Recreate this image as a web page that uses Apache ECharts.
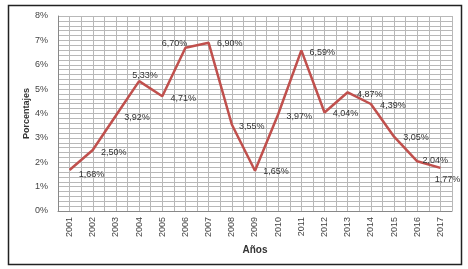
<!DOCTYPE html>
<html>
<head>
    <meta charset="utf-8">
    <title>Porcentajes por año</title>
    <script src="https://cdn.jsdelivr.net/npm/echarts@6/dist/echarts.min.js"></script>
    <style>
        body { margin: 0; background: #fff; }
    </style>
</head>
<body>
    <div id="main" style="width: 468px;height:269px;"></div>
    <script type="text/javascript">
        // datos del gráfico
        var years = ['2001', '2002', '2003', '2004', '2005', '2006', '2007', '2008', '2009',
            '2010', '2011', '2012', '2013', '2014', '2015', '2016', '2017'];
        var values = [1.68, 2.50, 3.92, 5.33, 4.71, 6.70, 6.90, 3.55, 1.65,
            3.97, 6.59, 4.04, 4.87, 4.39, 3.05, 2.04, 1.77];
        var yTicks = ['0%', '1%', '2%', '3%', '4%', '5%', '6%', '7%', '8%'];

        // desplazamiento de cada etiqueta respecto al punto
        var labelOffsets = [[22, 4], [21, 2], [21, 2], [6, -6], [21, 2], [-11, -4], [21, 1], [20, 2], [21, 1],
            [21, 2], [21, 2], [21, 1], [22, 2], [22, 2], [22, 1], [18, -1], [7, 12]];

        var font = 'Liberation Sans';
        var gridColor = '#b8b8b8';

        var myChart = echarts.init(document.getElementById('main'));

        var seriesData = values.map(function (v, i) {
            return {
                value: v,
                label: { offset: labelOffsets[i] }
            };
        });

        var option = {
            animation: false,
            backgroundColor: '#fff',
            graphic: [{
                type: 'rect',
                shape: { x: 8.5, y: 5.5, width: 453, height: 259 },
                style: { fill: 'none', stroke: '#222', lineWidth: 1.5 },
                z: 100
            }],
            grid: { left: 58, right: 16, top: 16, bottom: 58 },
            xAxis: [{
                type: 'category',
                data: years,
                boundaryGap: true,
                name: 'Años',
                nameLocation: 'middle',
                nameGap: 34,
                nameTextStyle: { fontFamily: font, fontSize: 10, fontWeight: 'bold', color: '#333' },
                axisLine: { lineStyle: { color: '#888', width: 1 } },
                axisTick: { show: false },
                axisLabel: { rotate: 90, fontFamily: font, fontSize: 9, color: '#444', margin: 6 },
                splitLine: { show: false }
            }, {
                // líneas verticales de la cuadrícula (cada media categoría)
                type: 'value',
                min: 0,
                max: years.length,
                interval: 0.5,
                position: 'top',
                axisLine: { show: false },
                axisTick: { show: false },
                axisLabel: { show: false },
                splitLine: { show: true, lineStyle: { color: gridColor, width: 1 } }
            }],
            yAxis: {
                type: 'value',
                min: 0,
                max: 8,
                interval: 1,
                name: 'Porcentajes',
                nameLocation: 'middle',
                nameGap: 27,
                nameMoveOverlap: false,
                nameTextStyle: { fontFamily: font, fontSize: 9, fontWeight: 'bold', color: '#333' },
                axisLine: { show: true, lineStyle: { color: '#888', width: 1 } },
                axisTick: { show: false },
                axisLabel: {
                    fontFamily: font, fontSize: 9, color: '#444', margin: 10,
                    formatter: function (v) { return yTicks[v]; }
                },
                splitLine: { show: true, lineStyle: { color: gridColor, width: 1 } },
                minorTick: { show: false, splitNumber: 5 },
                minorSplitLine: { show: true, lineStyle: { color: gridColor, width: 1 } }
            },
            series: [{
                type: 'line',
                xAxisIndex: 0,
                data: seriesData,
                symbol: 'circle',
                symbolSize: 0.1,
                itemStyle: { color: '#c0504d' },
                lineStyle: { color: '#c0504d', width: 2.5 },
                label: {
                    show: true,
                    position: 'inside',
                    fontFamily: font,
                    fontSize: 9,
                    color: '#333',
                    formatter: function (p) {
                        return p.value.toFixed(2).replace('.', ',') + '%';
                    }
                },
                z: 10
            }]
        };

        myChart.setOption(option);
    </script>
</body>
</html>
